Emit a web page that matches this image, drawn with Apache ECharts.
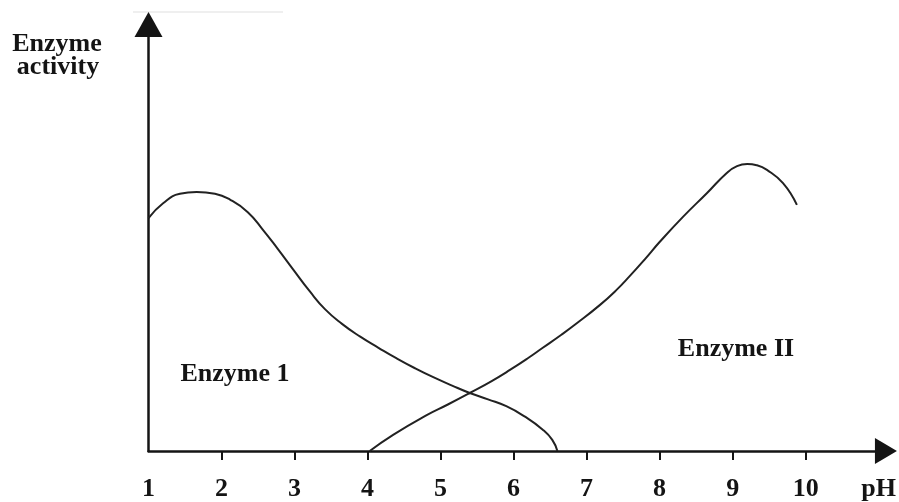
<!DOCTYPE html>
<html>
<head>
<meta charset="utf-8">
<script src="https://cdn.jsdelivr.net/npm/echarts@6/dist/echarts.min.js"></script>
<style>
html,body{margin:0;padding:0;background:#fff;}
#chart{width:899px;height:502px;}
</style>
</head>
<body>
<div id="chart"></div>
<script>
// pH values and relative enzyme activity (0-100 scale, top of y-axis = 100)
const enzyme1 = [
  [1.00, 54.6], [1.20, 58.1], [1.43, 60.3], [1.66, 60.7], [1.91, 60.3],
  [2.12, 58.9], [2.36, 56.0], [2.57, 51.8], [2.77, 47.4], [2.98, 42.6],
  [3.21, 37.4], [3.42, 33.2], [3.65, 29.8], [3.90, 26.8], [4.15, 24.2],
  [4.40, 21.7], [4.65, 19.4], [4.90, 17.3], [5.15, 15.4], [5.40, 13.6],
  [5.65, 12.1], [5.90, 10.5], [6.15, 8.1], [6.40, 5.0], [6.53, 2.6],
  [6.60, 0]
];
const enzyme2 = [
  [4.03, 0], [4.35, 3.8], [4.81, 8.4], [5.10, 10.9], [5.40, 13.6],
  [5.70, 16.4], [5.95, 19.0], [6.20, 21.8], [6.40, 24.2], [6.65, 27.2],
  [6.87, 30.0], [7.18, 34.2], [7.40, 37.6], [7.59, 41.0], [7.80, 45.0],
  [8.00, 49.0], [8.32, 54.9], [8.65, 60.5], [8.92, 65.2], [9.06, 66.8],
  [9.20, 67.3], [9.33, 67.0], [9.47, 65.9], [9.69, 62.8], [9.88, 57.7]
];
const tickValues = [2, 3, 4, 5, 6, 7, 8, 9, 10];
const labelValues = [1, 2, 3, 4, 5, 6, 7, 8, 9, 10, 11];
const xAxisTitle = 'pH';
const yAxisTitle = ['Enzyme', 'activity'];
const seriesNames = ['Enzyme 1', 'Enzyme II'];

const FONT = 'Liberation Serif, Times New Roman, serif';
const INK = '#141414';

const chart = echarts.init(document.getElementById('chart'), null, {renderer: 'canvas'});
chart.setOption({
  animation: false,
  backgroundColor: '#ffffff',
  grid: {left: 148.5, right: 13, top: 24.5, bottom: 51, containLabel: false},
  xAxis: {
    type: 'value', min: 1, max: 11.1,
    axisLine: {show: true, symbol: ['none', 'triangle'], symbolSize: [26, 22],
      lineStyle: {color: INK, width: 2.5}},
    axisTick: {show: true, customValues: tickValues, length: 9, inside: false,
      lineStyle: {color: INK, width: 2}},
    axisLabel: {show: true, customValues: labelValues, margin: 25,
      fontFamily: FONT, fontWeight: 'bold', fontSize: 26, color: INK,
      formatter: function (v) { return v === 11 ? xAxisTitle : String(v); }},
    splitLine: {show: false}
  },
  yAxis: {
    type: 'value', min: 0, max: 100,
    axisLine: {show: true, symbol: ['none', 'triangle'], symbolSize: [28, 25],
      lineStyle: {color: INK, width: 2.5}},
    axisTick: {show: false},
    axisLabel: {show: false},
    splitLine: {show: false}
  },
  graphic: [
    {type: 'line', shape: {x1: 133, y1: 12, x2: 283, y2: 12},
      style: {stroke: '#efefef', lineWidth: 2}, z: -1},
    {type: 'text', x: 57, y: 44,
      style: {text: yAxisTitle[0], fontFamily: FONT, fontWeight: 'bold', fontSize: 26,
        fill: INK, align: 'center', verticalAlign: 'middle'}},
    {type: 'text', x: 58, y: 67,
      style: {text: yAxisTitle[1], fontFamily: FONT, fontWeight: 'bold', fontSize: 26,
        fill: INK, align: 'center', verticalAlign: 'middle'}},
    {type: 'text', x: 235, y: 374,
      style: {text: seriesNames[0], fontFamily: FONT, fontWeight: 'bold', fontSize: 26,
        fill: INK, align: 'center', verticalAlign: 'middle'}},
    {type: 'text', x: 736, y: 349,
      style: {text: seriesNames[1], fontFamily: FONT, fontWeight: 'bold', fontSize: 26,
        fill: INK, align: 'center', verticalAlign: 'middle'}}
  ],
  series: [
    {name: seriesNames[0], type: 'line', data: enzyme1, smooth: 0.5, showSymbol: false,
      lineStyle: {color: '#222', width: 2}, z: 3},
    {name: seriesNames[1], type: 'line', data: enzyme2, smooth: 0.5, showSymbol: false,
      lineStyle: {color: '#222', width: 2}, z: 3}
  ]
});
</script>
</body>
</html>
